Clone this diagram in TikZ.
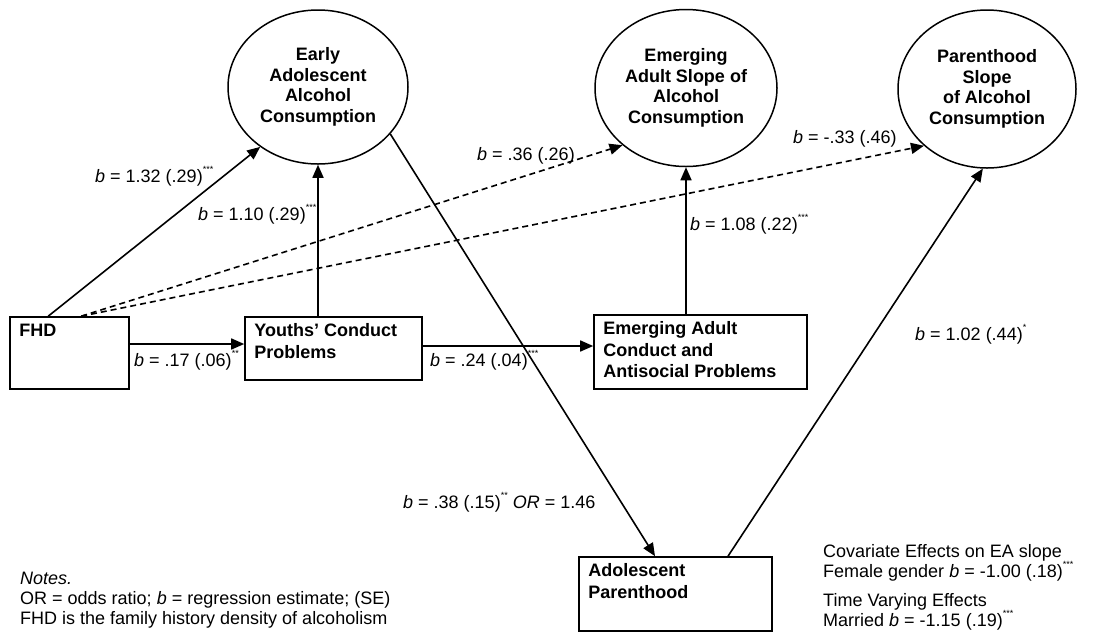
\documentclass[tikz,border=0pt]{standalone}
\usepackage{fontspec}
\setmainfont{Liberation Sans}
\usetikzlibrary{shapes.geometric,arrows.meta,calc}
\newcommand{\sig}[1]{\raisebox{1.05ex}{\fontsize{9}{9}\selectfont #1}}
\begin{document}
\begin{tikzpicture}[x=1pt,y=-1pt,
  every node/.style={font=\fontsize{18}{20.5}\selectfont, inner sep=0pt},
  latent/.style={draw, ellipse, line width=1.5pt, align=center, font=\fontsize{18}{20.5}\selectfont\bfseries},
  obs/.style={draw, rectangle, line width=1.6pt},
  boxtext/.style={anchor=north west, align=left, font=\fontsize{18}{21.5}\selectfont\bfseries},
  lab/.style={anchor=base west},
  arr/.style={line width=1.6pt, -{Triangle[length=13pt,width=11pt]}},
  darr/.style={arr, dash pattern=on 6pt off 4pt}
]
\useasboundingbox (0,0) rectangle (1093,633);
\fill[white] (0,0) rectangle (1093,633);

% latent variables
\node[latent, minimum width=180pt, minimum height=154pt] (early) at (318,87) {Early\\Adolescent\\Alcohol\\Consumption};
\node[latent, minimum width=182pt, minimum height=157pt] (emerg) at (686,88) {Emerging\\Adult Slope of\\Alcohol\\Consumption};
\node[latent, minimum width=178pt, minimum height=158pt] (par) at (987,89) {Parenthood\\Slope\\of Alcohol\\Consumption};

% observed variables
\node[obs, minimum width=119pt, minimum height=72pt] (fhd) at (69.5,353) {};
\node[obs, minimum width=177pt, minimum height=63pt] (youths) at (333.5,348.5) {};
\node[obs, minimum width=213pt, minimum height=74pt] (eac) at (700.5,352) {};
\node[obs, minimum width=193pt, minimum height=74pt] (ap) at (675.5,594) {};

\node[boxtext] (fhdt) at ([xshift=10pt,yshift=-7.5pt]fhd.north west) {FHD};
\node[boxtext] (youthst) at ([xshift=10pt,yshift=-7.5pt]youths.north west) {Youths' Conduct\\Problems};
\node[boxtext] (eact) at ([xshift=10pt,yshift=-7.5pt]eac.north west) {Emerging Adult\\Conduct and\\Antisocial Problems};
\node[boxtext] (apt) at ([xshift=10pt,yshift=-7.5pt]ap.north west) {Adolescent\\Parenthood};

% connectors
\draw[arr] ([xshift=39pt]fhd.north west) -- (early.226);
\draw[darr] ([xshift=72pt]fhd.north west) -- (emerg.222);
\draw[darr] ([xshift=72pt]fhd.north west) -- (par.222);
\draw[arr] ([yshift=9pt]fhd.east) -- ([yshift=9pt]fhd.east -| youths.west);
\draw[arr] (early.south |- youths.north) -- (early.south);
\draw[arr] ([yshift=2.5pt]youths.east) -- ([yshift=2.5pt]youths.east -| eac.west);
\draw[arr] (emerg.south |- eac.north) -- (emerg.south);
\draw[arr] (early.-33) -- ([xshift=-20.5pt]ap.north);
\draw[arr] ([xshift=52.5pt]ap.north) -- (par.267);

% path labels
\node[lab] (l1) at (95,182) {\textit{b} = 1.32 (.29)\sig{***}};
\node[lab] (l2) at (198,220) {\textit{b} = 1.10 (.29)\sig{***}};
\node[lab] (l3) at (477,160) {\textit{b} = .36 (.26)};
\node[lab] (l4) at (793,143) {\textit{b} = -.33 (.46)};
\node[lab] (l5) at (690,230) {\textit{b} = 1.08 (.22)\sig{***}};
\node[lab] (l6) at (915,340) {\textit{b} = 1.02 (.44)\sig{*}};
\node[lab] (l7) at (134,366) {\textit{b} = .17 (.06)\sig{**}};
\node[lab] (l8) at (430,366) {\textit{b} = .24 (.04)\sig{***}};
\node[lab] (l9) at (403,508) {\textit{b} = .38 (.15)\sig{**} \textit{OR} = 1.46};

% notes
\node[lab] (n1) at (20,584) {\textit{Notes.}};
\node[lab] (n2) at (20,604) {OR = odds ratio; \textit{b} = regression estimate; (SE)};
\node[lab] (n3) at (20,624) {FHD is the family history density of alcoholism};

\node[lab] (c1) at (823,557) {Covariate Effects on EA slope};
\node[lab] (c2) at (823,577) {Female gender \textit{b} = -1.00 (.18)\sig{***}};
\node[lab] (c3) at (823,606) {Time Varying Effects};
\node[lab] (c4) at (823,626) {Married \textit{b} = -1.15 (.19)\sig{***}};
\end{tikzpicture}
\end{document}
